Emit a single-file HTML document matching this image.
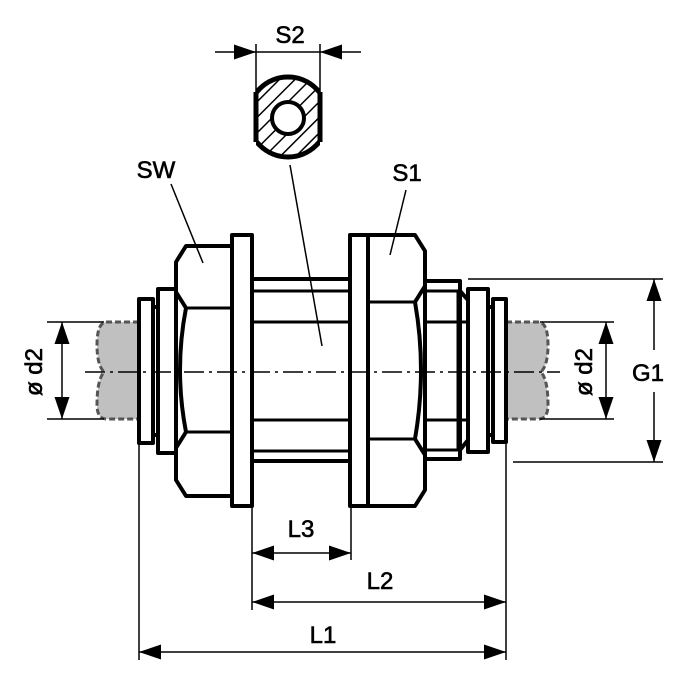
<!DOCTYPE html>
<html><head><meta charset="utf-8"><style>
html,body{margin:0;padding:0;background:#fff;}
svg{display:block}
text{font-family:"Liberation Sans",Arial,sans-serif;font-size:24px;fill:#000;stroke:#000;stroke-width:0.6;}
</style></head><body>
<svg width="700" height="700" viewBox="0 0 700 700" xmlns="http://www.w3.org/2000/svg">
<defs>
<marker id="a" viewBox="0 0 10 10" refX="10" refY="5" markerWidth="22" markerHeight="15" markerUnits="userSpaceOnUse" orient="auto-start-reverse" preserveAspectRatio="none"><path d="M0,0 L10,5 L0,10 z" fill="#000"/></marker>
<pattern id="h" width="11" height="11" patternUnits="userSpaceOnUse" patternTransform="rotate(45)"><line x1="0" y1="0" x2="0" y2="11" stroke="#000" stroke-width="3"/></pattern>
<clipPath id="c"><rect x="256" y="70" width="64" height="95"/></clipPath>
</defs>

<!-- S2 section -->
<g clip-path="url(#c)">
<circle cx="288" cy="117" r="40" fill="url(#h)" stroke="#000" stroke-width="5"/>
</g>
<line x1="256" y1="92" x2="256" y2="142" stroke="#000" stroke-width="5"/>
<line x1="320" y1="92" x2="320" y2="142" stroke="#000" stroke-width="5"/>
<circle cx="288" cy="118" r="16" fill="#fff" stroke="#000" stroke-width="4"/>
<line x1="256" y1="44" x2="256" y2="92" stroke="#000" stroke-width="1.5"/>
<line x1="320" y1="44" x2="320" y2="92" stroke="#000" stroke-width="1.5"/>
<line x1="215" y1="52" x2="256" y2="52" stroke="#000" stroke-width="1.5" marker-end="url(#a)"/>
<line x1="361" y1="52" x2="320" y2="52" stroke="#000" stroke-width="1.5" marker-end="url(#a)"/>
<line x1="256" y1="52" x2="320" y2="52" stroke="#000" stroke-width="1.5"/>
<text x="290" y="43" text-anchor="middle">S2</text>

<!-- tubes -->
<path d="M139,322 L107,322 Q97,322 97,345 Q97,365 104,372 Q97,380 97,405 Q97,419 107,419 L139,419" fill="#c0c0c0" stroke="#555" stroke-width="3" stroke-dasharray="6,3"/>
<path d="M506,322 L538,322 Q548,322 548,345 Q548,365 541,372 Q548,380 548,405 Q548,419 538,419 L506,419" fill="#c0c0c0" stroke="#555" stroke-width="3" stroke-dasharray="6,3"/>

<g fill="#fff" stroke="#000" stroke-width="4" stroke-linejoin="round">
<rect x="252" y="279" width="98" height="182"/>
<rect x="425" y="281" width="35" height="178"/>
<path d="M460,291 L468,300 L468,440 L460,450 Z"/>
<rect x="158" y="289" width="18" height="164"/>
<rect x="153" y="307" width="5" height="128"/>
<rect x="139" y="299" width="14" height="144"/>
<rect x="468" y="289" width="20" height="163"/>
<rect x="488" y="307" width="5" height="128"/>
<rect x="493" y="299" width="13" height="143"/>
<path d="M232,246 L186,246 L176,262 L176,292 L186,308 Q174,370 186,432 L176,448 L176,480 L186,496 L232,496 Z"/>
<path d="M368,235 L415,235 L425,251 L425,286 L415,302 Q427,370 415,439 L425,455 L425,490 L415,506 L368,506 Z"/>
<rect x="232" y="235" width="20" height="271"/>
<rect x="350" y="235" width="18" height="271"/>
</g>
<g stroke="#000" stroke-width="3">
<line x1="252" y1="291" x2="350" y2="291"/>
<line x1="252" y1="322" x2="350" y2="322"/>
<line x1="252" y1="420" x2="350" y2="420"/>
<line x1="252" y1="451" x2="350" y2="451"/>
<line x1="425" y1="291" x2="460" y2="291"/>
<line x1="425" y1="322" x2="468" y2="322"/>
<line x1="425" y1="420" x2="468" y2="420"/>
<line x1="425" y1="450" x2="460" y2="450"/>
<line x1="458" y1="291" x2="458" y2="450"/>
<line x1="186" y1="308" x2="232" y2="308"/>
<line x1="186" y1="432" x2="232" y2="432"/>
<line x1="368" y1="302" x2="415" y2="302"/>
<line x1="368" y1="439" x2="415" y2="439"/>
</g>

<line x1="85" y1="372" x2="560" y2="372" stroke="#000" stroke-width="1.5" stroke-dasharray="20,5,3,5"/>

<g stroke="#000" stroke-width="1.5">
<line x1="171" y1="184" x2="203" y2="263"/>
<line x1="406" y1="190" x2="390" y2="255"/>
<line x1="290" y1="165" x2="322" y2="346"/>
</g>
<text x="156" y="178" text-anchor="middle">SW</text>
<text x="407" y="181" text-anchor="middle">S1</text>

<g stroke="#000" stroke-width="1.5" fill="none">
<line x1="47" y1="322" x2="104" y2="322"/>
<line x1="47" y1="419" x2="104" y2="419"/>
<line x1="62" y1="372" x2="62" y2="322" marker-end="url(#a)"/>
<line x1="62" y1="372" x2="62" y2="419" marker-end="url(#a)"/>
<line x1="540" y1="322" x2="614" y2="322"/>
<line x1="540" y1="419" x2="614" y2="419"/>
<line x1="606" y1="372" x2="606" y2="322" marker-end="url(#a)"/>
<line x1="606" y1="372" x2="606" y2="419" marker-end="url(#a)"/>
<line x1="468" y1="279" x2="663" y2="279"/>
<line x1="513" y1="462" x2="663" y2="462"/>
<line x1="654" y1="350" x2="654" y2="279" marker-end="url(#a)"/>
<line x1="654" y1="392" x2="654" y2="462" marker-end="url(#a)"/>
<line x1="139" y1="443" x2="139" y2="660"/>
<line x1="252" y1="506" x2="252" y2="610"/>
<line x1="351" y1="506" x2="351" y2="560"/>
<line x1="506" y1="442" x2="506" y2="660"/>
<line x1="301" y1="553" x2="252" y2="553" marker-end="url(#a)"/>
<line x1="301" y1="553" x2="351" y2="553" marker-end="url(#a)"/>
<line x1="380" y1="602" x2="252" y2="602" marker-end="url(#a)"/>
<line x1="380" y1="602" x2="506" y2="602" marker-end="url(#a)"/>
<line x1="322" y1="652" x2="139" y2="652" marker-end="url(#a)"/>
<line x1="322" y1="652" x2="506" y2="652" marker-end="url(#a)"/>
</g>
<text x="301" y="537" text-anchor="middle">L3</text>
<text x="380" y="589" text-anchor="middle">L2</text>
<text x="323" y="643" text-anchor="middle">L1</text>
<text x="648" y="381" text-anchor="middle">G1</text>
<text transform="translate(42,372) rotate(-90)" text-anchor="middle">ø d2</text>
<text transform="translate(592,372) rotate(-90)" text-anchor="middle">ø d2</text>
</svg>
</body></html>
